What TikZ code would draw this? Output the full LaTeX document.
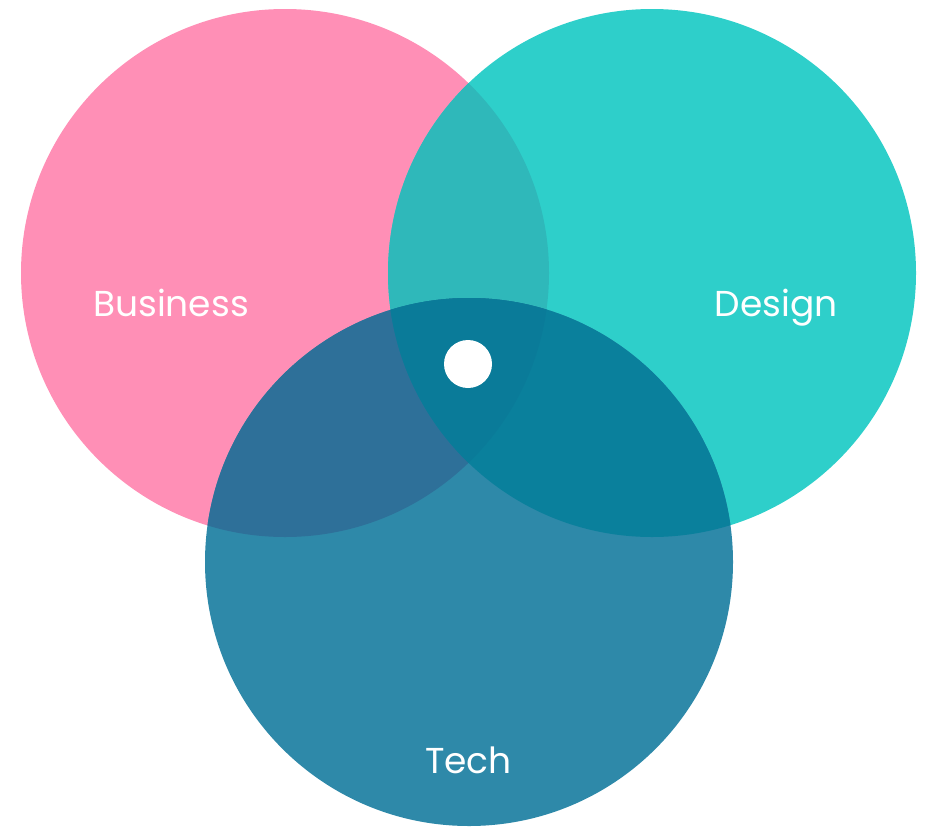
\documentclass[tikz,border=0pt]{standalone}
\usepackage{fontspec}
\setmainfont{Poppins}
\definecolor{pinkc}{HTML}{FF8FB6}
\definecolor{tealc}{HTML}{2ECFCA}
\definecolor{techc}{HTML}{2E89A9}
\definecolor{bdc}{HTML}{2FB8BA}
\definecolor{btc}{HTML}{2E7099}
\definecolor{dtc}{HTML}{0A809C}
\definecolor{allc}{HTML}{0A7B99}
\begin{document}
\begin{tikzpicture}[x=1pt,y=-1pt,
  lbl/.style={text=white,font=\fontsize{36}{42}\selectfont,inner sep=0pt,anchor=base}]
\useasboundingbox (0,0) rectangle (926,827);
\def\B{(285,273) circle (264)}
\def\D{(652,273) circle (264)}
\def\T{(469,562) circle (264)}
\fill[pinkc] \B;
\fill[tealc] \D;
\fill[techc] \T;
\begin{scope}\clip \B; \fill[bdc] \D; \end{scope}
\begin{scope}\clip \B; \fill[btc] \T; \end{scope}
\begin{scope}\clip \D; \fill[dtc] \T; \end{scope}
\begin{scope}\clip \B; \clip \D; \fill[allc] \T; \end{scope}
\node[circle,fill=white,minimum size=48pt,inner sep=0pt] (dot) at (468,364) {};
\node[lbl] (business) at (171,316) {Business};
\node[lbl] (design) at (776,316) {Design};
\node[lbl] (tech) at (468.5,773) {Tech};
\end{tikzpicture}
\end{document}
